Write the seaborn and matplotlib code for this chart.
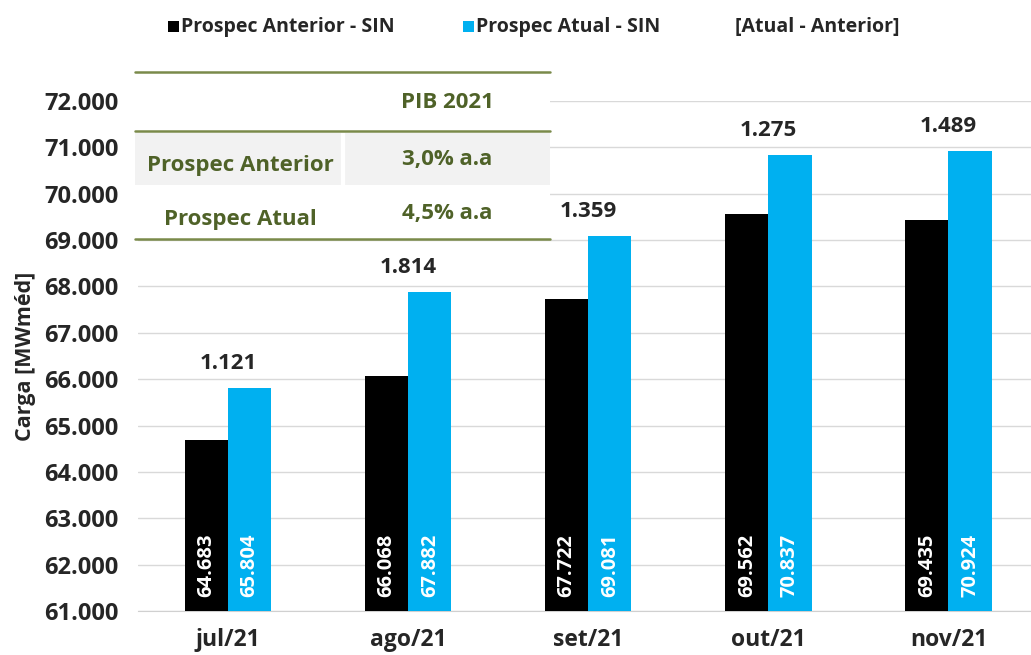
import pandas as pd
import matplotlib.pyplot as plt
import seaborn as sns
from matplotlib.patches import Rectangle
from matplotlib.ticker import FuncFormatter, FixedLocator

meses = ["jul/21", "ago/21", "set/21", "out/21", "nov/21"]
anterior = [64683, 66068, 67722, 69562, 69435]
atual = [65804, 67882, 69081, 70837, 70924]
series = ["Prospec Anterior - SIN", "Prospec Atual - SIN"]
cores = ["#000000", "#00B0F0"]

tab_cabecalho = "PIB 2021"
tab_linhas = ["Prospec Anterior", "Prospec Atual"]
tab_pib = ["3,0% a.a", "4,5% a.a"]

VERDE = "#4F6228"
LINHA = "#7A8A4A"


def fmt(v):
    return f"{int(round(v)):,}".replace(",", ".")


df = pd.DataFrame({
    "mes": meses * 2,
    "serie": [series[0]] * len(meses) + [series[1]] * len(meses),
    "valor": anterior + atual,
})

sns.set_style("white")
plt.rcParams["font.family"] = ["Open Sans", "DejaVu Sans"]
plt.rcParams["font.weight"] = "bold"

fig = plt.figure(figsize=(10.31, 6.55), dpi=100)
W, H = 1031, 655
ax = fig.add_axes([138 / W, 44 / H, (W - 138) / W, (611 - 101) / H])

sns.barplot(data=df, x="mes", y="valor", hue="serie", palette=cores,
            width=0.48, saturation=1, legend=False, ax=ax, zorder=3,
            linewidth=0)

ax.set_ylim(61000, 72000)
ax.set_xlim(-0.5, 4.5 - 7.5 / 179)
ax.yaxis.set_major_locator(FixedLocator(range(61000, 72001, 1000)))
ax.yaxis.set_major_formatter(FuncFormatter(lambda v, p: fmt(v)))
ax.grid(axis="y", color="#D9D9D9", linewidth=1, zorder=0)
ax.set_axisbelow(True)
for s in ["left", "right", "top"]:
    ax.spines[s].set_visible(False)
ax.spines["bottom"].set_color("#D0D0D0")
ax.tick_params(axis="y", length=0, pad=14, labelsize=17)
ax.tick_params(axis="x", which="major", length=0, pad=12, labelsize=16.5)
ax.set_xticks([i + 0.5 for i in range(len(meses) - 1)], minor=True)
ax.tick_params(axis="x", which="minor", length=7, color="#D0D0D0")
for lab in ax.get_xticklabels() + ax.get_yticklabels():
    lab.set_fontweight("bold")
ax.set_xlabel("")
ax.set_ylabel("Carga [MWméd]", fontsize=15.5, fontweight="bold", labelpad=6)

# valores dentro das barras
for cont in ax.containers:
    for bar in cont:
        xc = bar.get_x() + bar.get_width() / 2
        ax.annotate(fmt(bar.get_height()), xy=(xc, 61000), xytext=(0, 10),
                    textcoords="offset points", rotation=90, ha="center",
                    va="bottom", color="white", fontsize=14.5, fontweight="bold",
                    zorder=5)

# diferenca atual - anterior
for i, (a, b) in enumerate(zip(anterior, atual)):
    ax.annotate(fmt(b - a), xy=(i, b), xytext=(0, 10), textcoords="offset points",
                ha="center", va="bottom", fontsize=16, fontweight="bold")

# camada de sobreposicao (tabela e legenda) em pixels
ov = fig.add_axes([0, 0, 1, 1], zorder=10)
ov.set_xlim(0, W)
ov.set_ylim(H, 0)
ov.axis("off")
ov.patch.set_visible(False)

ov.add_patch(Rectangle((135, 72), 415, 167, facecolor="white", edgecolor="none"))
ov.add_patch(Rectangle((135, 133), 415, 52, facecolor="#F2F2F2", edgecolor="none"))
ov.plot([343, 343], [133, 185], color="white", lw=3)
for yl in [72, 131, 239]:
    ov.plot([135, 550], [yl, yl], color=LINHA, lw=1.8)
ov.text(447, 103, tab_cabecalho, ha="center", va="center", color=VERDE,
        fontsize=16, fontweight="bold")
for yy, nome, pib in zip([162, 216], tab_linhas, tab_pib):
    ov.text(240, yy + 3, nome, ha="center", va="center", color=VERDE,
            fontsize=16, fontweight="bold")
    ov.text(447, yy - 3, pib, ha="center", va="center", color=VERDE,
            fontsize=16, fontweight="bold")

# legenda
for xq, nome, cor in zip([168, 463], series, cores):
    ov.add_patch(Rectangle((xq, 21), 11, 11, facecolor=cor, edgecolor="none"))
    ov.text(xq + 13, 27, nome, ha="left", va="center", fontsize=14,
            fontweight="bold")
ov.text(735, 27, "[Atual - Anterior]", ha="left", va="center", fontsize=14,
        fontweight="bold")

fig.savefig("out.png", dpi=100)
